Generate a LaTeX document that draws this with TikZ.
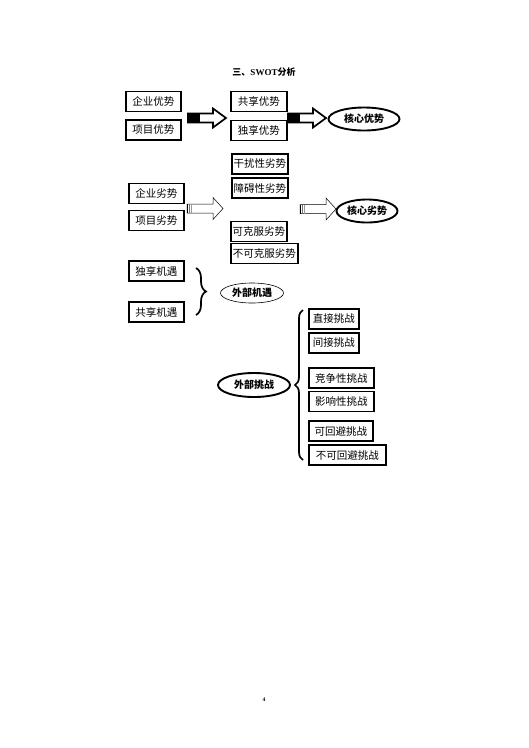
\documentclass[tikz,border=0pt]{standalone}
\usepackage{fontspec}
\setmainfont{Liberation Serif}
\newfontfamily\cjk{Noto Sans CJK SC}
\usetikzlibrary{shapes.geometric,decorations.pathreplacing}
\newcommand\solidarr[2]{\begin{scope}[shift={(#1,#2)}]
 \fill (0,-4.5) rectangle (12,4.5);
 \draw[line width=1.7pt, line join=miter] (0,-4.5) -- (25,-4.5) -- (25,-9.5) -- (38,0) -- (25,9.5) -- (25,4.5) -- (0,4.5) -- cycle;
\end{scope}}
\newcommand\hollowarr[2]{\begin{scope}[shift={(#1,#2)}]
 \draw[line width=0.5pt] (0,-4.5) -- (26,-4.5) -- (26,-11) -- (36,0) -- (26,11) -- (26,4.5) -- (0,4.5) -- cycle;
 \draw[line width=1pt] (0.8,-4.5) -- (0.8,4.5);
 \draw[line width=1pt, black!55] (2.8,-4.5) -- (2.8,4.5);
 \draw[line width=1pt, black!40] (4.8,-4.5) -- (4.8,4.5);
\end{scope}}
\begin{document}
\begin{tikzpicture}[x=1pt,y=-1pt,
  box/.style={draw, line width=1.8pt, inner sep=0pt, minimum height=20pt, anchor=west,
    font=\cjk\fontsize{10.5}{10.5}\selectfont},
  oval/.style={ellipse, draw, inner sep=0pt, font=\cjk\bfseries\fontsize{10}{10}\selectfont},
  thickoval/.style={oval, line width=1.9pt},
  thinoval/.style={oval, line width=0.6pt},
  bracestyle/.style={decorate, decoration={brace, amplitude=#1}, line width=1.7pt},
  bracestyle/.default=8pt]
\useasboundingbox (0,0) rectangle (529,748);
\fill[white] (0,0) rectangle (529,748);

\node (title) at (264,72) {\fontsize{9}{9}\selectfont\cjk\bfseries 三、\rmfamily\bfseries SWOT\cjk\bfseries 分析};

% strengths
\node[box,minimum width=55pt] (qyys) at (125,101.5) {企业优势};
\node[box,minimum width=55pt] (xmys) at (125,130) {项目优势};
\node[box,minimum width=56pt] (gxys) at (230,101.5) {共享优势};
\node[box,minimum width=56pt] (dxys) at (230,130.5) {独享优势};
\node[thickoval,minimum width=71pt,minimum height=23pt] (hxys) at (364,119) {核心优势};
\solidarr{188}{118}
\solidarr{288}{118}

% weaknesses
\node[box,minimum width=56pt] (grls) at (231,164) {干扰性劣势};
\node[box,minimum width=56pt] (zals) at (231,188) {障碍性劣势};
\node[box,minimum width=55pt] (qyls) at (128,193.5) {企业劣势};
\node[box,minimum width=55pt] (xmls) at (128,220.5) {项目劣势};
\node[box,minimum width=56pt] (kkfls) at (230,231.5) {可克服劣势};
\node[box,minimum width=67pt] (bkkfls) at (230,253.5) {不可克服劣势};
\node[thickoval,minimum width=61pt,minimum height=23pt] (hxls) at (367,211) {核心劣势};
\hollowarr{187}{208.5}
\hollowarr{300}{209}

% opportunities
\node[box,minimum width=55pt] (dxjy) at (128,271) {独享机遇};
\node[box,minimum width=55pt] (gxjy) at (128,312) {共享机遇};
\coordinate (b1s) at (196,268);
\coordinate (b1e) at (196,315);
\draw[bracestyle=10pt] (b1s) -- (b1e);
\node[thinoval,minimum width=63pt,minimum height=20pt] (wbjy) at (252,293) {外部机遇};

% threats
\node[box,minimum width=50pt] (zjtz) at (308,319) {直接挑战};
\node[box,minimum width=50pt] (jjtz) at (308,343) {间接挑战};
\node[box,minimum width=65pt] (jzxtz) at (308,378) {竞争性挑战};
\node[box,minimum width=65pt] (yxxtz) at (308,401.5) {影响性挑战};
\node[box,minimum width=64pt] (khbtz) at (308,431) {可回避挑战};
\node[box,minimum width=77pt] (bkhbtz) at (308,455) {不可回避挑战};
\coordinate (b2s) at (303,460);
\coordinate (b2e) at (303,310);
\draw[bracestyle=8pt] (b2s) -- (b2e);
\node[thickoval,minimum width=72pt,minimum height=24pt] (wbtz) at (254,385) {外部挑战};

\node (pg) at (264,700) {\fontsize{5.5}{5.5}\selectfont\bfseries 4};
\end{tikzpicture}
\end{document}
